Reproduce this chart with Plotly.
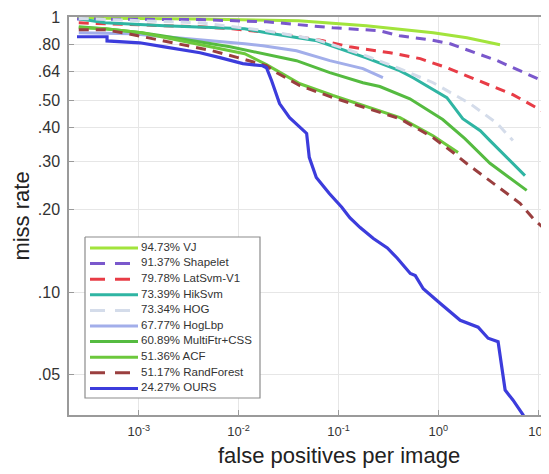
import math
import plotly.graph_objects as go

# ---------------- data (fppi, miss rate) ----------------
names = ["VJ", "Shapelet", "LatSvm-V1", "HikSvm", "HOG", "HogLbp",
         "MultiFtr+CSS", "ACF", "RandForest", "OURS"]
scores = ["94.73%", "91.37%", "79.78%", "73.39%", "73.34%", "67.77%",
          "60.89%", "51.36%", "51.17%", "24.27%"]
colors = ["#a2e43c", "#7a58cc", "#e83c46", "#2fb5a3", "#d4dcea", "#a2aeea",
          "#55bb40", "#6cc83c", "#9a3f3f", "#3c3cdc"]
dashed = [False, True, True, False, True, False, False, False, True, False]

vj_x = [0.00024, 0.004, 0.04, 0.19, 0.89, 1.94, 4.16]
vj_y = [0.998, 0.99, 0.975, 0.935, 0.882, 0.846, 0.798]

shapelet_x = [0.00024, 0.0041, 0.019, 0.088, 0.26, 0.41, 0.83, 1.32, 3.9, 12.3]
shapelet_y = [0.99, 0.985, 0.967, 0.92, 0.897, 0.86, 0.832, 0.804, 0.698, 0.58]

latsvm_x = [0.00025, 0.0041, 0.0087, 0.026, 0.070, 0.13, 0.33, 0.66, 1.22, 2.6, 5.6, 12.8]
latsvm_y = [0.959, 0.927, 0.912, 0.875, 0.825, 0.784, 0.746, 0.71, 0.658, 0.59, 0.525, 0.444]

hiksvm_x = [0.00025, 0.00046, 0.0018, 0.0115, 0.019, 0.061, 0.19, 0.26, 0.41, 0.56,
            1.22, 1.76, 2.64, 3.3, 5.6, 7.4]
hiksvm_y = [0.992, 0.959, 0.935, 0.912, 0.882, 0.825, 0.715, 0.686, 0.642, 0.605,
            0.512, 0.429, 0.388, 0.357, 0.295, 0.266]

hog_x = [0.00025, 0.0041, 0.019, 0.061, 0.19, 0.41, 0.89, 1.22, 2.08, 3.9, 5.6]
hog_y = [0.995, 0.959, 0.897, 0.832, 0.727, 0.653, 0.58, 0.543, 0.487, 0.412, 0.357]

hoglbp_x = [0.00025, 0.00085, 0.0115, 0.0175, 0.038, 0.082, 0.176, 0.279]
hoglbp_y = [0.882, 0.875, 0.804, 0.791, 0.759, 0.698, 0.653, 0.605]

multiftr_x = [0.00025, 0.00046, 0.00107, 0.0017, 0.0082, 0.0175, 0.038, 0.082, 0.176,
              0.26, 0.52, 1.11, 1.85, 3.3, 5.6, 7.7]
multiftr_y = [0.927, 0.912, 0.882, 0.86, 0.784, 0.74, 0.698, 0.631, 0.58,
              0.562, 0.507, 0.426, 0.363, 0.295, 0.255, 0.235]

acf_x = [0.00025, 0.00046, 0.00107, 0.00214, 0.0054, 0.0115, 0.019, 0.0241, 0.0411,
         0.0881, 0.222, 0.414, 0.885, 1.58]
acf_y = [0.92, 0.912, 0.882, 0.839, 0.784, 0.74, 0.675, 0.642, 0.575,
         0.521, 0.467, 0.433, 0.372, 0.323]

randforest_x = [0.00025, 0.00046, 0.00078, 0.00123, 0.00214, 0.0034, 0.0054, 0.00983,
                0.01456, 0.019, 0.0241, 0.0411, 0.0881, 0.222, 0.414, 0.885, 1.41,
                1.94, 3.08, 4.46, 6.6, 8.9, 12.9]
randforest_y = [0.904, 0.904, 0.875, 0.846, 0.811, 0.784, 0.759, 0.716,
                0.686, 0.669, 0.631, 0.566, 0.512, 0.459, 0.429, 0.366, 0.323,
                0.294, 0.26, 0.235, 0.211, 0.186, 0.164]

ours_x = [0.00024, 0.00048, 0.00048, 0.00102, 0.00174, 0.0041, 0.0065, 0.011, 0.0174,
          0.019, 0.0214, 0.0257, 0.0324, 0.048, 0.051, 0.060, 0.081, 0.108, 0.130,
          0.165, 0.224, 0.309, 0.389, 0.525, 0.589, 0.708, 1.05, 1.66, 2.51, 3.16,
          3.98, 4.37, 4.68, 5.6, 7.1, 7.6]
ours_y = [0.853, 0.853, 0.824, 0.811, 0.785, 0.746, 0.716, 0.681, 0.669,
          0.658, 0.590, 0.487, 0.433, 0.379, 0.310, 0.262, 0.229, 0.204, 0.187,
          0.172, 0.157, 0.145, 0.133, 0.117, 0.115, 0.103, 0.091, 0.079, 0.0746, 0.068,
          0.066, 0.0533, 0.044, 0.0405, 0.0357, 0.0337]

series_x = [vj_x, shapelet_x, latsvm_x, hiksvm_x, hog_x, hoglbp_x,
            multiftr_x, acf_x, randforest_x, ours_x]
series_y = [vj_y, shapelet_y, latsvm_y, hiksvm_y, hog_y, hoglbp_y,
            multiftr_y, acf_y, randforest_y, ours_y]

y_ticks = [0.05, 0.10, 0.20, 0.30, 0.40, 0.50, 0.64, 0.80, 1.0]
y_ticktext = [".05", ".10", ".20", ".30", ".40", ".50", ".64", ".80", "1"]
x_ticks = [1e-3, 1e-2, 1e-1, 1e0, 1e1]
x_ticktext = ["10<sup>-3</sup>", "10<sup>-2</sup>", "10<sup>-1</sup>",
              "10<sup>0</sup>", "10<sup>1</sup>"]
x_title = "false positives per image"
y_title = "miss rate"

# ---------------- figure (page body adds an 8px offset) ----------------
OFF = 8
W, H = 549 - OFF, 474 - OFF
ML, MR, MT, MB = 69 - OFF, 0, 17 - OFF, 59
PW, PH = W - ML - MR, H - MT - MB
FONT = "Liberation Sans, Arial, sans-serif"

fig = go.Figure()
for i in range(len(names)):
    fig.add_trace(go.Scatter(
        x=series_x[i], y=series_y[i], mode="lines",
        name=f"{scores[i]} {names[i]}",
        line=dict(color=colors[i], width=3.2 if i == 9 else 3,
                  dash="10px,7px" if dashed[i] else "solid"),
        showlegend=False, hoverinfo="skip"))

# ---------------- legend box drawn on an overlay unit axis ----------------
def frac(px, py):
    # screenshot pixel -> fraction of plot area
    return (px - OFF - ML) / PW, (H - MB - (py - OFF)) / PH

bx0, by0 = frac(85, 237)
bx1, by1 = frac(260, 398)
fig.add_trace(go.Scatter(
    x=[bx0, bx1, bx1, bx0, bx0], y=[by0, by0, by1, by1, by0],
    mode="lines", fill="toself", fillcolor="white",
    line=dict(color="#8c8c8c", width=1.2),
    xaxis="x2", yaxis="y2", showlegend=False, hoverinfo="skip"))

row0, rowh = 248, 15.6
text_x, text_y, labels = [], [], []
for i in range(len(names)):
    cy = row0 + i * rowh
    lx0, ly = frac(90, cy)
    lx1, _ = frac(138, cy)
    fig.add_trace(go.Scatter(
        x=[lx0, lx1], y=[ly, ly], mode="lines",
        line=dict(color=colors[i], width=3, dash="15px,10px" if dashed[i] else "solid"),
        xaxis="x2", yaxis="y2", showlegend=False, hoverinfo="skip"))
    tx, _ = frac(141, cy)
    text_x.append(tx)
    text_y.append(ly)
    labels.append(f"{scores[i]} {names[i]}")

fig.add_trace(go.Scatter(
    x=text_x, y=text_y, mode="text", text=labels, textposition="middle right",
    textfont=dict(size=11.5, color="#333333", family=FONT),
    xaxis="x2", yaxis="y2", showlegend=False, hoverinfo="skip", cliponaxis=False))

# x title: the original axis extends past the cropped right edge, so its centre sits right of the visible middle
tx_title, ty_title = frac(339, 455)

ymin = 0.0357
fig.update_layout(
    width=W, height=H,
    margin=dict(l=ML, r=MR, t=MT, b=MB, pad=0),
    paper_bgcolor="white", plot_bgcolor="white",
    font=dict(family=FONT, color="#333333"),
    annotations=[dict(xref="paper", yref="paper", x=tx_title, y=ty_title,
                      xanchor="center", yanchor="middle", showarrow=False,
                      text=x_title, font=dict(size=22, color="#222222", family=FONT))],
    xaxis=dict(type="log", range=[-3.70, 1.11], tickvals=x_ticks, ticktext=x_ticktext,
               showgrid=True, gridcolor="#e6e6e6", gridwidth=1,
               showline=True, linecolor="#9a9a9a", linewidth=1.5, mirror=True,
               ticks="inside", ticklen=5, tickcolor="#9a9a9a",
               tickfont=dict(size=13, color="#333333"), zeroline=False,
               ticklabelstandoff=4, automargin=False),
    yaxis=dict(type="log", range=[math.log10(ymin), 0.003], tickvals=y_ticks, ticktext=y_ticktext,
               showgrid=True, gridcolor="#e6e6e6", gridwidth=1,
               showline=True, linecolor="#9a9a9a", linewidth=1.5, mirror=True,
               ticks="inside", ticklen=5, tickcolor="#9a9a9a",
               tickfont=dict(size=16, color="#333333"), zeroline=False,
               ticklabelstandoff=4,
               title=dict(text=y_title, font=dict(size=22, color="#222222"), standoff=2),
               automargin=False),
    xaxis2=dict(overlaying="x", range=[0, 1], visible=False, fixedrange=True),
    yaxis2=dict(overlaying="y", range=[0, 1], visible=False, fixedrange=True),
)

fig.write_html("out.html")
